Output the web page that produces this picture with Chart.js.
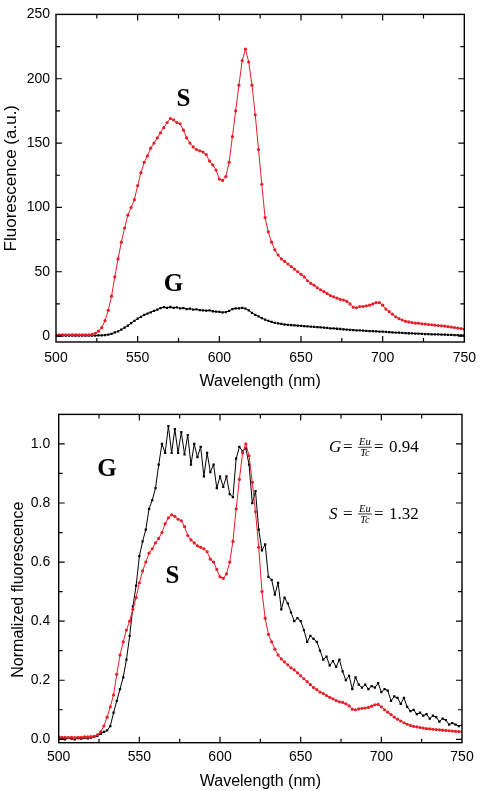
<!DOCTYPE html>
<html>
<head>
<meta charset="utf-8">
<script src="https://cdn.jsdelivr.net/npm/chart.js@4.4.1/dist/chart.umd.min.js"></script>
<style>
  html, body { margin: 0; padding: 0; background: #fff; }
  #wrap { position: relative; width: 484px; height: 791px; }
  canvas { position: absolute; left: 0; }
  #topo { top: 0; }
  #baixo { top: 395px; }
</style>
</head>
<body>
<div id="wrap">
  <canvas id="topo" width="484" height="395"></canvas>
  <canvas id="baixo" width="484" height="396"></canvas>
</div>
<script>
// Comprimento de onda (nm)
const comprimento = [
  500, 502, 504, 506, 508, 510, 512, 514, 516, 518,
  520, 522, 524, 526, 528, 530, 532, 534, 536, 538,
  540, 542, 544, 546, 548, 550, 552, 554, 556, 558,
  560, 562, 564, 566, 568, 570, 572, 574, 576, 578,
  580, 582, 584, 586, 588, 590, 592, 594, 596, 598,
  600, 602, 604, 606, 608, 610, 612, 614, 616, 618,
  620, 622, 624, 626, 628, 630, 632, 634, 636, 638,
  640, 642, 644, 646, 648, 650, 652, 654, 656, 658,
  660, 662, 664, 666, 668, 670, 672, 674, 676, 678,
  680, 682, 684, 686, 688, 690, 692, 694, 696, 698,
  700, 702, 704, 706, 708, 710, 712, 714, 716, 718,
  720, 722, 724, 726, 728, 730, 732, 734, 736, 738,
  740, 742, 744, 746, 748, 750
];

// Fluorescência (u.a.) - amostra S
const fluorS = [
  1, 1, 1, 1, 1, 1, 1, 1, 1, 1,
  1, 1.3, 2.2, 3.8, 6.5, 12, 20, 31, 46, 60,
  73, 84, 94, 100, 106, 117, 127, 135, 140, 146,
  150, 154, 158, 162, 166, 169, 168, 166, 165, 160,
  154, 150, 147, 145, 144, 143, 141, 136, 133, 129,
  122, 121, 124, 135, 155, 175, 195, 214, 223, 213,
  195, 172, 145, 118, 92, 81, 73, 67, 63, 60,
  58, 56, 54, 52, 50, 48, 46, 43, 41, 39.5,
  37.5, 36, 34.5, 33, 31.5, 30.5, 29.5, 28.5, 28, 27,
  25, 22.5, 22, 23, 23, 23.5, 24, 25, 26, 26,
  24, 21, 19, 17, 15, 13.5, 12.5, 11.5, 11, 10.5,
  10, 10, 9.5, 9.3, 9, 8.8, 8.5, 8.2, 8, 7.8,
  7.3, 7, 6.6, 6.2, 5.8, 5.5
];

// Fluorescência (u.a.) - amostra G
const fluorG = [
  0.3, 0.3, 0.3, 0.3, 0.3, 0.3, 0.3, 0.3, 0.3, 0.3,
  0.3, 0.3, 0.4, 0.5, 0.6, 0.8, 1.2, 1.8, 2.8, 3.6,
  5.0, 6.6, 8.2, 10, 11.8, 13.5, 15, 16.5, 17.5, 18.5,
  19.5, 20.5, 21.8, 22.5, 22, 22.6, 22, 22.3, 21.5, 21.8,
  21, 21.3, 20.6, 20.8, 20.2, 20, 19.7, 19.9, 19.3, 19,
  18.8, 18.5, 18.6, 19.5, 21, 21.6, 21.5, 22, 21.4, 20,
  18, 16.5, 15.3, 14, 12.8, 11.8, 11, 10.3, 9.8, 9.4,
  9, 8.8, 8.6, 8.4, 8.2, 8, 7.7, 7.5, 7.3, 7.1,
  7, 6.8, 6.5, 6.3, 6, 5.9, 5.7, 5.5, 5.3, 5.1,
  4.9, 4.7, 4.5, 4.4, 4.2, 4, 3.9, 3.8, 3.7, 3.5,
  3.4, 3.2, 3, 2.9, 2.7, 2.6, 2.4, 2.3, 2.2, 2.1,
  2, 1.9, 1.8, 1.6, 1.5, 1.4, 1.3, 1.3, 1.2, 1.1,
  1, 0.9, 0.8, 0.7, 0.6, 0.6
];

// Fluorescência normalizada - S
const normS = [
  0.008, 0.007, 0.007, 0.006, 0.007, 0.006, 0.007, 0.007, 0.008, 0.008,
  0.009, 0.01, 0.015, 0.025, 0.045, 0.075, 0.11, 0.15, 0.22, 0.285,
  0.33, 0.37, 0.40, 0.44, 0.48, 0.53, 0.57, 0.60, 0.63, 0.645,
  0.665, 0.68, 0.70, 0.73, 0.75, 0.76, 0.755, 0.745, 0.74, 0.72,
  0.69, 0.675, 0.665, 0.655, 0.65, 0.645, 0.635, 0.61, 0.60, 0.575,
  0.55, 0.545, 0.56, 0.60, 0.67, 0.78, 0.88, 0.97, 1.0, 0.96,
  0.87, 0.77, 0.65, 0.50, 0.41, 0.355, 0.33, 0.305, 0.285, 0.272,
  0.262, 0.252, 0.242, 0.235, 0.225, 0.215, 0.205, 0.195, 0.185, 0.175,
  0.168, 0.16, 0.155, 0.148, 0.142, 0.137, 0.131, 0.127, 0.125, 0.12,
  0.113, 0.102, 0.10, 0.103, 0.105, 0.106, 0.108, 0.112, 0.117, 0.118,
  0.11, 0.10, 0.092, 0.084, 0.075, 0.068, 0.062, 0.056, 0.051, 0.047,
  0.044, 0.042, 0.04, 0.038, 0.036, 0.035, 0.034, 0.033, 0.032, 0.031,
  0.03, 0.029, 0.028, 0.027, 0.026, 0.025
];

// Fluorescência normalizada - G
const normG = [
  0, 0.003, 0, 0.005, 0.002, 0, 0.004, 0.002, 0.005, 0.003,
  0.006, 0.008, 0.012, 0.018, 0.025, 0.03, 0.045, 0.09, 0.13, 0.17,
  0.21, 0.27, 0.35, 0.45, 0.52, 0.62, 0.67, 0.71, 0.78, 0.81,
  0.85, 0.93, 1.0, 0.97, 1.06, 0.97, 1.05, 0.97, 1.04, 0.965,
  1.03, 0.93, 1.0, 0.955, 0.99, 0.89, 0.97, 0.905, 0.93, 0.85,
  0.89, 0.855, 0.89, 0.83, 0.82, 0.95, 0.99, 0.975, 0.985, 0.93,
  0.80, 0.84, 0.71, 0.64, 0.66, 0.55, 0.54, 0.49, 0.53, 0.44,
  0.48, 0.46, 0.43, 0.40, 0.41, 0.40, 0.37, 0.33, 0.35, 0.34,
  0.33, 0.30, 0.27, 0.28, 0.25, 0.265, 0.245, 0.27, 0.23, 0.20,
  0.215, 0.17, 0.21, 0.185, 0.175, 0.185, 0.17, 0.18, 0.175, 0.19,
  0.16, 0.17, 0.165, 0.13, 0.145, 0.14, 0.12, 0.14, 0.11, 0.095,
  0.10, 0.085, 0.09, 0.08, 0.085, 0.07, 0.08, 0.075, 0.06, 0.07,
  0.065, 0.05, 0.055, 0.05, 0.045, 0.048
];

// Marcas dos eixos
const xMarcas = [500, 550, 600, 650, 700, 750];
const xMenores = [525, 575, 625, 675, 725];
const yMarcasTopo = [0, 50, 100, 150, 200, 250];
const yMenoresTopo = [25, 75, 125, 175, 225];
const yMarcasBaixo = [0, 0.2, 0.4, 0.6, 0.8, 1.0];
const yMenoresBaixo = [0.1, 0.3, 0.5, 0.7, 0.9];

const vermelho = "rgb(232, 30, 40)";
const preto = "#000000";
const fonteSerif = '"Liberation Serif", "Times New Roman", serif';

Chart.defaults.font.family = '"Liberation Sans", Arial, sans-serif';
Chart.defaults.color = "#000";

function pontos(valores) {
  return comprimento.map((w, i) => ({ x: w, y: valores[i] }));
}

function serie(valores, cor, estilo) {
  return {
    data: pontos(valores),
    borderColor: cor,
    backgroundColor: cor,
    borderWidth: 1,
    pointStyle: estilo,
    pointRadius: 1.6,
    pointBorderWidth: 0,
    pointBackgroundColor: cor,
    tension: 0
  };
}

// Moldura, marcas internas e textos
const moldura = {
  id: "moldura",
  afterDatasetsDraw(chart, args, opts) {
    const { ctx, chartArea: a, scales: { x, y } } = chart;
    ctx.save();
    ctx.strokeStyle = "#000";
    ctx.lineWidth = 1.4;
    ctx.strokeRect(a.left, a.top, a.right - a.left, a.bottom - a.top);

    ctx.lineWidth = 1.2;
    ctx.beginPath();
    const xTick = (v, len) => {
      const px = x.getPixelForValue(v);
      if (px <= a.left + 1 || px >= a.right - 1) return;
      ctx.moveTo(px, a.bottom); ctx.lineTo(px, a.bottom - len);
      ctx.moveTo(px, a.top); ctx.lineTo(px, a.top + len);
    };
    const yTick = (v, len) => {
      const py = y.getPixelForValue(v);
      if (py <= a.top + 1 || py >= a.bottom - 1) return;
      ctx.moveTo(a.left, py); ctx.lineTo(a.left + len, py);
      ctx.moveTo(a.right, py); ctx.lineTo(a.right - len, py);
    };
    opts.xMaior.forEach(v => xTick(v, 6));
    opts.xMenor.forEach(v => xTick(v, 4));
    opts.yMaior.forEach(v => yTick(v, 6));
    opts.yMenor.forEach(v => yTick(v, 4));
    ctx.stroke();

    // letras S e G
    ctx.fillStyle = "#000";
    ctx.textAlign = "center";
    ctx.textBaseline = "middle";
    ctx.font = "bold 25px " + fonteSerif;
    (opts.letras || []).forEach(l => {
      ctx.fillText(l.texto, x.getPixelForValue(l.x), y.getPixelForValue(l.y));
    });

    // equações
    (opts.equacoes || []).forEach(eq => {
      const px = x.getPixelForValue(eq.x);
      const base = y.getPixelForValue(eq.y);
      ctx.textAlign = "left";
      ctx.textBaseline = "alphabetic";
      ctx.font = "italic 17px " + fonteSerif;
      ctx.fillText(eq.simbolo, px, base);
      ctx.font = "17px " + fonteSerif;
      ctx.fillText("=", px + 14, base);
      const meio = base - 5;
      ctx.font = "italic 10.5px " + fonteSerif;
      ctx.textAlign = "center";
      ctx.fillText("Eu", px + 36, meio - 2);
      ctx.fillText("Tc", px + 36, meio + 9);
      ctx.fillRect(px + 29, meio - 0.4, 14, 0.8);
      ctx.textAlign = "left";
      ctx.font = "17px " + fonteSerif;
      ctx.fillText("=", px + 45, base);
      ctx.fillText(eq.valor, px + 60, base);
    });
    ctx.restore();
  }
};

function eixos(cfg) {
  return {
    x: {
      type: "linear",
      min: 500,
      max: 750,
      afterBuildTicks: s => { s.ticks = xMarcas.map(v => ({ value: v })); },
      afterFit: s => { s.height = cfg.xAltura; },
      grid: { display: false, drawTicks: false },
      border: { display: false },
      ticks: { font: { size: 14 }, padding: cfg.xPad, maxRotation: 0, color: "#000" },
      title: { display: true, text: "Wavelength (nm)", font: { size: 16 }, color: "#000", padding: { top: 0, bottom: cfg.xTituloPad } }
    },
    y: {
      type: "linear",
      min: cfg.yMin,
      max: cfg.yMax,
      afterBuildTicks: s => { s.ticks = cfg.yMarcas.map(v => ({ value: v })); },
      afterFit: s => { s.width = cfg.yLargura; },
      grid: { display: false, drawTicks: false },
      border: { display: false },
      ticks: { font: { size: 14 }, padding: cfg.yPad, color: "#000", callback: cfg.formato },
      title: { display: true, text: cfg.yTitulo, font: { size: cfg.yTituloTam }, color: "#000", padding: { top: cfg.yTituloPad, bottom: 0 } }
    }
  };
}

// Gráfico de cima
new Chart(document.getElementById("topo").getContext("2d"), {
  type: "line",
  data: {
    datasets: [serie(fluorS, vermelho, "circle"), serie(fluorG, preto, "rect")]
  },
  options: {
    responsive: false,
    animation: false,
    devicePixelRatio: 1,
    layout: { padding: { left: 0, right: 16, top: 8, bottom: 0 } },
    scales: eixos({
      yMin: -4.6, yMax: 250, yMarcas: yMarcasTopo, yLargura: 56, yPad: 6,
      xAltura: 53, xPad: 8, xTituloPad: 3.4,
      yTitulo: "Fluorescence (a.u.)", yTituloTam: 17, yTituloPad: 1,
      formato: v => v
    }),
    plugins: {
      legend: { display: false },
      tooltip: { enabled: false },
      moldura: {
        xMaior: xMarcas, xMenor: xMenores, yMaior: yMarcasTopo, yMenor: yMenoresTopo,
        letras: [{ texto: "S", x: 578, y: 184 }, { texto: "G", x: 572, y: 40 }]
      }
    }
  },
  plugins: [moldura]
});

// Gráfico de baixo (título um pouco abaixo do centro, como no original)
new Chart(document.getElementById("baixo").getContext("2d"), {
  type: "line",
  data: {
    datasets: [serie(normS, vermelho, "circle"), serie(normG, preto, "rect")]
  },
  options: {
    responsive: false,
    animation: false,
    devicePixelRatio: 1,
    layout: { padding: { left: 0, right: 22, top: 19.4, bottom: 0 } },
    scales: eixos({
      yMin: -0.0115, yMax: 1.1, yMarcas: yMarcasBaixo, yLargura: 58.7, yPad: 8.5,
      xAltura: 48.3, xPad: 6, xTituloPad: 0,
      yTitulo: "Normalized fluorescence     ", yTituloTam: 16, yTituloPad: 9,
      formato: v => v.toFixed(1)
    }),
    plugins: {
      legend: { display: false },
      tooltip: { enabled: false },
      moldura: {
        xMaior: xMarcas, xMenor: xMenores, yMaior: yMarcasBaixo, yMenor: yMenoresBaixo,
        letras: [{ texto: "G", x: 530, y: 0.912 }, { texto: "S", x: 570.5, y: 0.551 }],
        equacoes: [
          { simbolo: "G", valor: "0.94", x: 667.5, y: 0.972 },
          { simbolo: "S", valor: "1.32", x: 667.5, y: 0.746 }
        ]
      }
    }
  },
  plugins: [moldura]
});
</script>
</body>
</html>
